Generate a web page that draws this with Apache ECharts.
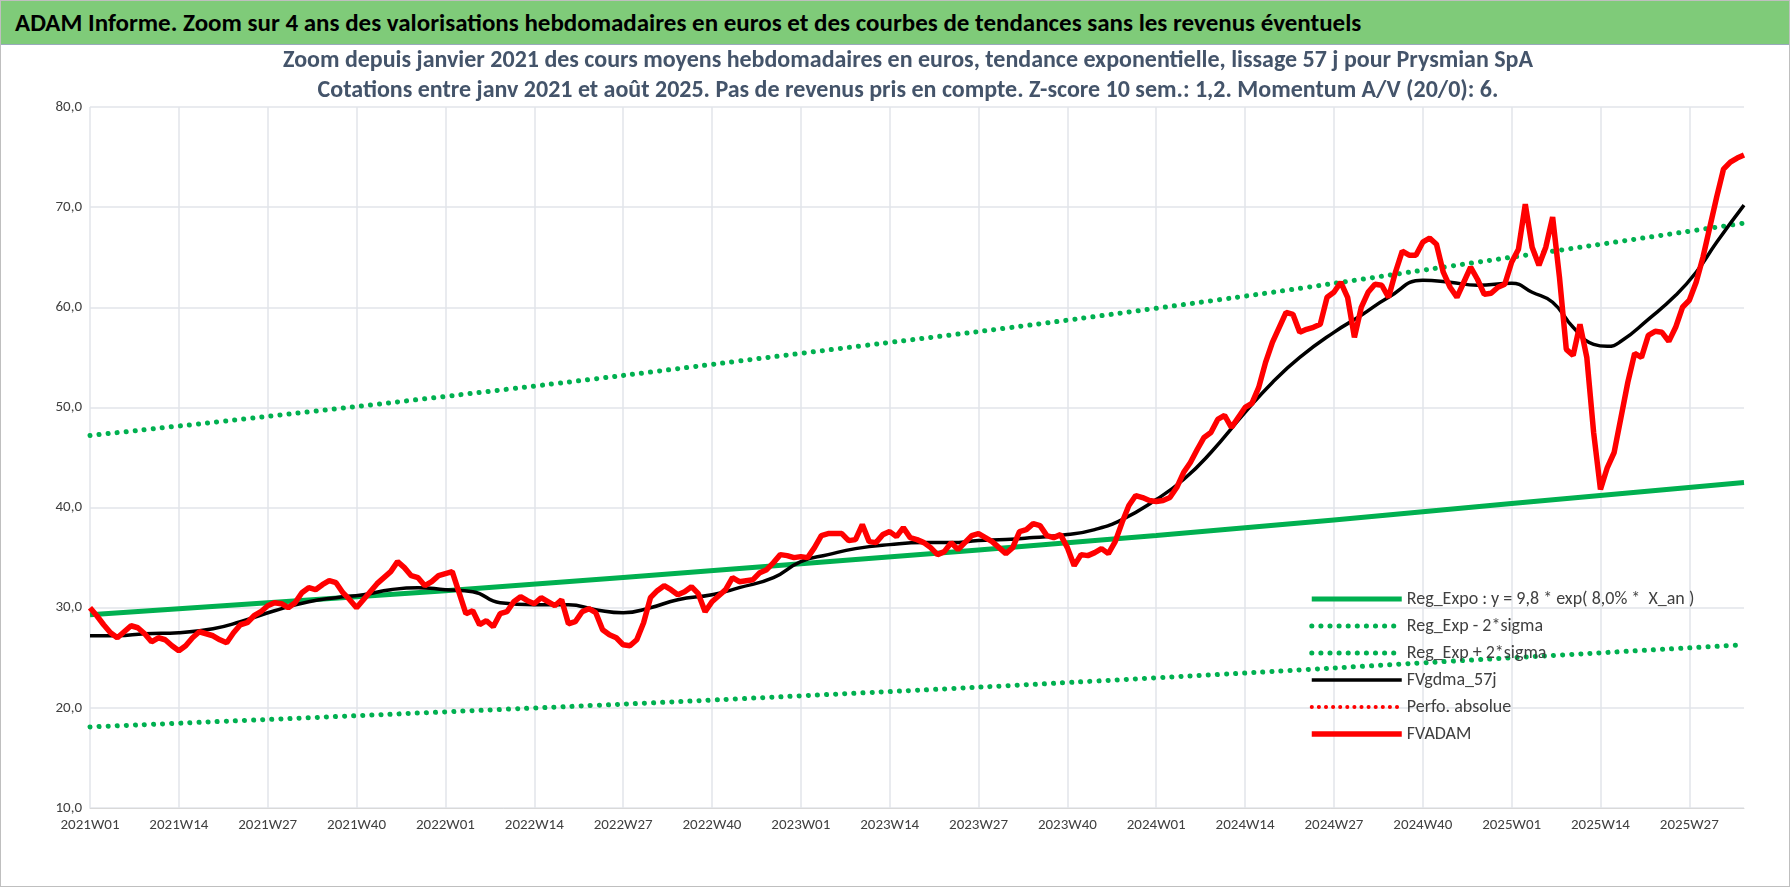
<!DOCTYPE html>
<html>
<head>
<meta charset="utf-8">
<script src="https://cdn.jsdelivr.net/npm/echarts@6/dist/echarts.min.js"></script>
<style>
  body { margin: 0; background: #fff; font-family: Carlito, "Liberation Sans", "Noto Sans", sans-serif; }
  #wrap { position: relative; width: 1790px; height: 887px; box-sizing: border-box; border: 1px solid #bfbfbf; }
  #head { height: 43px; background: #7fcb79; border-bottom: 1px solid #9ab; font-weight: bold; font-size: 25px; line-height: 43px; padding-left: 14px; color: #000; }
  #chart { position: absolute; left: 0; top: 0; width: 1788px; height: 885px; }
</style>
</head>
<body>
<div id="wrap">
  <div id="head">ADAM Informe. Zoom sur 4 ans des valorisations hebdomadaires en euros et des courbes de tendances sans les revenus éventuels</div>
  <div id="chart"></div>
</div>
<script>
// weeks 2021W01 .. 2025W35
const weeks = [];
for (let y = 2021; y <= 2025; y++) {
    const last = y === 2025 ? 35 : 52;
    for (let w = 1; w <= last; w++) weeks.push(y + 'W' + String(w).padStart(2, '0'));
}

// FVADAM, weekly
const fvadam = [
    30.0, 29.2, 28.3, 27.5, 27.0, 27.6, 28.2, 28.0, 27.4, 26.6, 27.0, 26.8, 26.2,
    25.7, 26.2, 27.0, 27.6, 27.4, 27.2, 26.8, 26.5, 27.5, 28.3, 28.5, 29.2, 29.6,
    30.2, 30.5, 30.4, 30.0, 30.5, 31.5, 32.0, 31.8, 32.3, 32.7, 32.5, 31.5, 30.8,
    30.0, 30.8, 31.6, 32.4, 33.0, 33.6, 34.6, 34.0, 33.2, 33.0, 32.2, 32.6, 33.2,
    33.4, 33.6, 31.5, 29.4, 29.7, 28.3, 28.7, 28.1, 29.4, 29.6, 30.6, 31.1, 30.7,
    30.4, 31.0, 30.6, 30.2, 30.8, 28.4, 28.6, 29.6, 29.9, 29.5, 27.8, 27.3, 27.0,
    26.3, 26.2, 26.8, 28.5, 31.0, 31.7, 32.2, 31.8, 31.3, 31.6, 32.1, 31.4, 29.6,
    30.6, 31.2, 31.8, 33.0, 32.6, 32.7, 32.8, 33.5, 33.8, 34.5, 35.3, 35.2, 35.0,
    35.1, 35.0, 36.0, 37.2, 37.4, 37.4, 37.4, 36.7, 36.8, 38.3, 36.6, 36.5, 37.3,
    37.6, 37.1, 38.0, 37.0, 36.8, 36.5, 36.0, 35.3, 35.6, 36.5, 35.8, 36.5, 37.2,
    37.4, 37.0, 36.6, 36.0, 35.4, 36.0, 37.6, 37.8, 38.4, 38.2, 37.2, 37.0, 37.3,
    36.0, 34.2, 35.3, 35.2, 35.5, 35.9, 35.4, 36.6, 38.5, 40.2, 41.2, 41.0, 40.7,
    40.6, 40.7, 41.0, 42.0, 43.5, 44.5, 45.8, 47.0, 47.5, 48.8, 49.2, 48.0, 49.0,
    50.0, 50.4, 52.0, 54.5, 56.5, 58.0, 59.5, 59.3, 57.5, 57.8, 58.0, 58.3, 61.0,
    61.5, 62.5, 61.0, 57.0, 60.0, 61.5, 62.3, 62.2, 61.0, 63.5, 65.6, 65.2, 65.2,
    66.5, 66.9, 66.3, 63.5, 62.0, 61.0, 62.5, 64.0, 62.8, 61.3, 61.4, 62.0, 62.3,
    64.5, 65.8, 70.3, 66.0, 64.2, 66.0, 69.0, 63.0, 55.8, 55.2, 58.3, 55.0, 47.5,
    41.8, 44.0, 45.5, 49.0, 52.5, 55.4, 55.0, 57.2, 57.6, 57.5, 56.6, 58.0, 60.0,
    60.7, 62.5, 65.0, 68.0, 71.0, 73.8, 74.5, 74.9, 75.2
];

// FVgdma_57j, [week index, value]
const fvgdma = [
    [0, 27.2], [4, 27.2], [8, 27.4], [13, 27.5], [18, 27.9], [22, 28.6], [27, 29.7], [32, 30.6],
    [36, 31.0], [40, 31.3], [44, 31.8], [48, 32.0], [52, 31.8], [56, 31.6], [60, 30.5], [65, 30.3],
    [70, 30.3], [74, 29.8], [78, 29.5], [82, 30.0], [86, 30.8], [91, 31.3], [95, 32.0], [100, 33.0],
    [104, 34.6], [108, 35.3], [112, 35.9], [117, 36.3], [122, 36.5], [126, 36.5], [130, 36.7],
    [134, 36.8], [138, 37.0], [143, 37.3], [147, 37.8], [151, 38.8], [156, 40.8], [160, 42.8],
    [164, 45.5], [169, 49.5], [173, 52.5], [177, 55.0], [182, 57.5], [186, 59.2], [190, 61.0],
    [195, 62.7], [199, 62.5], [203, 62.2], [208, 62.4], [211, 61.5], [214, 60.5], [217, 58.0],
    [220, 56.3], [222, 56.1], [224, 56.6], [228, 58.8], [232, 61.2], [235, 63.5], [238, 66.5], [242, 70.2]
];

// trend curves read at yearly points
const regExpo = [[0, 29.3], [52, 31.7], [104, 34.4], [156, 37.2], [208, 40.4], [242, 42.5]];
const regMinus = [[0, 47.2], [52, 51.1], [104, 55.4], [156, 59.9], [208, 65.0], [242, 68.4]];
const regPlus = [[0, 18.1], [52, 19.6], [104, 21.2], [156, 23.0], [208, 25.0], [242, 26.3]];

const GREEN = '#00b050';
const RED = '#ff0000';
const dotted = { type: [0.1, 9], cap: 'round', width: 5, color: GREEN };
const redDotted = { type: [0.1, 7], cap: 'round', width: 4, color: RED };

const legendItem = (name, lineStyle) => ({ name, lineStyle, itemStyle: { opacity: 0 } });

const chart = echarts.init(document.getElementById('chart'));
chart.setOption({
    animation: false,
    textStyle: { fontFamily: 'Carlito, "Liberation Sans", sans-serif' },
    title: {
        text: 'Zoom depuis janvier 2021 des cours moyens hebdomadaires en euros, tendance exponentielle, lissage 57 j pour Prysmian SpA\nCotations entre janv 2021 et août 2025. Pas de revenus pris en compte. Z-score 10 sem.: 1,2. Momentum A/V (20/0): 6.',
        left: 902, top: 40, textAlign: 'center',
        textStyle: { fontSize: 24, fontWeight: 'bold', color: '#44546a', lineHeight: 30 }
    },
    grid: { left: 89, right: 45, top: 106, bottom: 78 },
    legend: {
        orient: 'vertical', left: 1303, top: 584, itemGap: 9, itemWidth: 90, itemHeight: 14,
        textStyle: { fontSize: 18, color: '#404040' },
        data: [
            legendItem('Reg_Expo : y = 9,8 * exp( 8,0% *  X_an )', { color: GREEN, width: 5 }),
            legendItem('Reg_Exp - 2*sigma', dotted),
            legendItem('Reg_Exp + 2*sigma', dotted),
            legendItem('FVgdma_57j', { color: '#000', width: 3.5 }),
            legendItem('Perfo. absolue', redDotted),
            legendItem('FVADAM', { color: RED, width: 5.5 })
        ]
    },
    xAxis: {
        type: 'category', data: weeks, boundaryGap: false,
        axisLine: { lineStyle: { color: '#d9d9d9' } },
        axisTick: { show: false },
        axisLabel: { interval: 12, color: '#404040', fontSize: 15, margin: 10 },
        splitLine: { show: true, interval: 12, lineStyle: { color: '#e2e4ea', width: 1.5 } }
    },
    yAxis: {
        type: 'value', min: 10, max: 80, interval: 10,
        axisLabel: { color: '#404040', fontSize: 15, formatter: v => v.toFixed(1).replace('.', ',') },
        splitLine: { lineStyle: { color: '#e2e4ea', width: 1.5 } }
    },
    series: [
        { name: 'Reg_Expo : y = 9,8 * exp( 8,0% *  X_an )', type: 'line', data: regExpo, smooth: true, symbol: 'none', lineStyle: { color: GREEN, width: 5 }, itemStyle: { color: GREEN } },
        { name: 'Reg_Exp - 2*sigma', type: 'line', data: regMinus, smooth: true, symbol: 'none', lineStyle: dotted, itemStyle: { color: GREEN } },
        { name: 'Reg_Exp + 2*sigma', type: 'line', data: regPlus, smooth: true, symbol: 'none', lineStyle: dotted, itemStyle: { color: GREEN } },
        { name: 'FVgdma_57j', type: 'line', data: fvgdma, smooth: true, symbol: 'none', lineStyle: { color: '#000', width: 3.5 }, itemStyle: { color: '#000' } },
        { name: 'Perfo. absolue', type: 'line', data: [], symbol: 'none', lineStyle: redDotted, itemStyle: { color: RED } },
        { name: 'FVADAM', type: 'line', data: fvadam, symbol: 'none', lineStyle: { color: RED, width: 5.5 }, itemStyle: { color: RED }, z: 5 }
    ]
});
</script>
</body>
</html>
